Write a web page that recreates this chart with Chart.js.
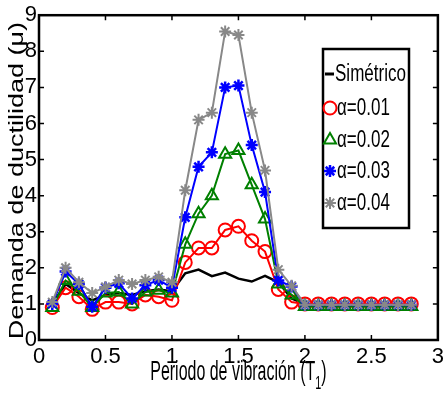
<!DOCTYPE html>
<html>
<head>
<meta charset="utf-8">
<script src="https://cdn.jsdelivr.net/npm/chart.js@4.4.1/dist/chart.umd.min.js"></script>
<style>
  html, body { margin: 0; padding: 0; background: #fff; }
  #wrap { width: 448px; height: 405px; position: relative; }
</style>
</head>
<body>
<div id="wrap"><canvas id="grafico"></canvas></div>
<script>
// Periodos (T1) y demandas de ductilidad
const periodos = [0.1, 0.2, 0.3, 0.4, 0.5, 0.6, 0.7, 0.8, 0.9, 1.0,
                  1.1, 1.2, 1.3, 1.4, 1.5, 1.6, 1.7, 1.8, 1.9, 2.0,
                  2.1, 2.2, 2.3, 2.4, 2.5, 2.6, 2.7, 2.8];
const simetrico = [1.0, 1.55, 1.3, 1.1, 1.25, 1.3, 1.25, 1.35, 1.4, 1.35,
                   1.85, 1.95, 1.77, 1.87, 1.7, 1.62, 1.78, 1.6, 1.15, 1.0,
                   1.0, 1.0, 1.0, 1.0, 1.0, 1.0, 1.0, 1.0];
const alfa001 = [0.9, 1.45, 1.2, 0.85, 1.05, 1.05, 1.0, 1.25, 1.2, 1.1,
                 2.15, 2.55, 2.55, 3.05, 3.15, 2.75, 2.45, 1.4, 1.05, 1.0,
                 1.0, 1.0, 1.0, 1.0, 1.0, 1.0, 1.0, 1.0];
const alfa002 = [0.9, 1.65, 1.35, 0.9, 1.3, 1.33, 1.0, 1.33, 1.38, 1.3,
                 2.65, 3.5, 4.0, 5.15, 5.25, 4.3, 3.35, 1.55, 1.25, 0.93,
                 0.93, 0.93, 0.93, 0.93, 0.93, 0.93, 0.93, 0.93];
const alfa003 = [1.0, 1.9, 1.55, 0.92, 1.45, 1.57, 1.15, 1.52, 1.66, 1.45,
                 3.4, 4.8, 5.2, 7.0, 7.05, 5.4, 4.1, 1.65, 1.48, 0.97,
                 0.97, 0.97, 0.97, 0.97, 0.97, 0.97, 0.97, 0.97];
const alfa004 = [1.05, 2.0, 1.6, 1.3, 1.47, 1.66, 1.55, 1.66, 1.75, 1.6,
                 4.15, 6.1, 6.3, 8.55, 8.45, 6.3, 4.7, 1.95, 1.5, 0.98,
                 0.98, 0.98, 0.98, 0.98, 0.98, 0.98, 0.98, 0.98];
const etiquetas = ['Simétrico', 'α=0.01', 'α=0.02', 'α=0.03', 'α=0.04'];
const ticksX = [0, 0.5, 1, 1.5, 2, 2.5, 3];
const ticksY = [0, 1, 2, 3, 4, 5, 6, 7, 8, 9];

const FUENTE = '"Liberation Sans", Arial, sans-serif';

const pares = (ys) => ys.map((y, i) => ({ x: periodos[i], y: y }));

// Dibuja marcos, ticks hacia adentro, titulos de ejes y leyenda (estilo Matlab)
const estiloMatlab = {
  id: 'estiloMatlab',
  afterDraw(chart) {
    const { ctx, chartArea: a, scales } = chart;
    ctx.save();
    ctx.strokeStyle = '#000';
    ctx.lineWidth = 1.5;
    ticksX.forEach(v => {
      const px = scales.x.getPixelForValue(v);
      ctx.beginPath();
      ctx.moveTo(px, a.bottom); ctx.lineTo(px, a.bottom - 5);
      ctx.moveTo(px, a.top); ctx.lineTo(px, a.top + 5);
      ctx.stroke();
    });
    ticksY.forEach(v => {
      const py = scales.y.getPixelForValue(v);
      ctx.beginPath();
      ctx.moveTo(a.left, py); ctx.lineTo(a.left + 5, py);
      ctx.moveTo(a.right, py); ctx.lineTo(a.right - 5, py);
      ctx.stroke();
    });
    ctx.lineWidth = 2.5;
    ctx.strokeRect(a.left, a.top, a.right - a.left, a.bottom - a.top);

    // titulo eje Y
    ctx.fillStyle = '#000';
    ctx.save();
    ctx.translate(22.5, (a.top + a.bottom) / 2 + 3);
    ctx.scale(0.76, 1);
    ctx.rotate(-Math.PI / 2);
    ctx.font = '27px ' + FUENTE;
    ctx.textAlign = 'center';
    ctx.textBaseline = 'alphabetic';
    ctx.fillText('Demanda de ductilidad (μ)', 0, 0);
    ctx.restore();

    // titulo eje X con subindice
    ctx.save();
    const cx = (a.left + a.right) / 2;
    ctx.translate(cx, 380);
    ctx.scale(0.57, 1);
    ctx.font = '28px ' + FUENTE;
    ctx.textBaseline = 'alphabetic';
    ctx.textAlign = 'left';
    const t1 = 'Periodo de vibración (T';
    const w1 = ctx.measureText(t1).width;
    ctx.font = '19px ' + FUENTE;
    const w2 = ctx.measureText('1').width;
    ctx.font = '28px ' + FUENTE;
    const w3 = ctx.measureText(')').width;
    let x0 = -(w1 + w2 + w3) / 2;
    ctx.fillText(t1, x0, 0);
    ctx.font = '19px ' + FUENTE;
    ctx.fillText('1', x0 + w1, 9);
    ctx.font = '28px ' + FUENTE;
    ctx.fillText(')', x0 + w1 + w2, 0);
    ctx.restore();

    // leyenda
    const lx = 323, ly = 49, lw = 86, lh = 179;
    ctx.fillStyle = '#fff';
    ctx.fillRect(lx, ly, lw, lh);
    ctx.lineWidth = 2.5;
    ctx.strokeStyle = '#000';
    ctx.strokeRect(lx, ly, lw, lh);
    const filas = [74, 108, 140, 171, 203];
    chart.data.datasets.forEach((ds, i) => {
      const y = filas[i];
      ctx.save();
      if (ds.pointRadius === 0) {
        ctx.strokeStyle = ds.borderColor;
        ctx.lineWidth = 3;
        ctx.beginPath();
        ctx.moveTo(325, y); ctx.lineTo(334, y);
        ctx.stroke();
      } else {
        ctx.strokeStyle = ds.borderColor;
        ctx.fillStyle = ds.pointBackgroundColor;
        ctx.lineWidth = ds.pointBorderWidth;
        Chart.helpers.drawPoint(ctx, {
          pointStyle: ds.pointStyle, radius: ds.pointRadius,
          rotation: 0, borderWidth: ds.pointBorderWidth
        }, 330, y);
      }
      ctx.restore();
      ctx.save();
      ctx.fillStyle = '#000';
      ctx.translate(i === 0 ? 335 : 337, y);
      ctx.scale(0.74, 1);
      ctx.font = '23px ' + FUENTE;
      ctx.textAlign = 'left';
      ctx.textBaseline = 'middle';
      ctx.fillText(ds.label, 0, 1);
      ctx.restore();
    });
    ctx.restore();
  }
};

const serie = (label, ys, color, estilo, radio, grosor, orden) => ({
  label: label,
  data: pares(ys),
  showLine: true,
  borderColor: color,
  borderWidth: 2,
  pointStyle: estilo,
  pointRadius: radio,
  pointHoverRadius: radio,
  pointBorderColor: color,
  pointBackgroundColor: 'rgba(0,0,0,0)',
  pointBorderWidth: grosor,
  order: orden
});

const datasets = [
  Object.assign(serie(etiquetas[0], simetrico, '#000000', 'circle', 0, 0, 5), { borderWidth: 2.5 }),
  serie(etiquetas[1], alfa001, '#ff0000', 'circle', 6.5, 2, 4),
  serie(etiquetas[2], alfa002, '#008000', 'triangle', 7, 2, 3),
  serie(etiquetas[3], alfa003, '#0000ff', 'star', 6, 2.5, 2),
  serie(etiquetas[4], alfa004, '#888888', 'star', 6, 2, 1)
];

new Chart(document.getElementById('grafico'), {
  type: 'scatter',
  data: { datasets: datasets },
  options: {
    responsive: true,
    maintainAspectRatio: false,
    animation: false,
    layout: { padding: { top: 15, right: 4, left: 0, bottom: 0 } },
    plugins: {
      legend: { display: false },
      tooltip: { enabled: false }
    },
    scales: {
      x: {
        type: 'linear',
        min: 0, max: 3,
        afterBuildTicks: (s) => { s.ticks = ticksX.map(v => ({ value: v })); },
        afterFit: (s) => { s.height = 65; },
        grid: { display: false, drawTicks: false },
        border: { display: true, color: '#000', width: 2 },
        ticks: {
          color: '#000',
          padding: 4,
          maxRotation: 0,
          font: { family: '"Liberation Sans Narrow", ' + FUENTE, size: 22 },
          callback: (v) => String(v)
        }
      },
      y: {
        min: 0, max: 9,
        afterBuildTicks: (s) => { s.ticks = ticksY.map(v => ({ value: v })); },
        afterFit: (s) => { s.width = 39; },
        grid: { display: false, drawTicks: false },
        border: { display: true, color: '#000', width: 2 },
        ticks: {
          color: '#000',
          padding: 2,
          font: { family: '"Liberation Sans Narrow", ' + FUENTE, size: 22 },
          callback: (v) => String(v)
        }
      }
    }
  },
  plugins: [estiloMatlab]
});
</script>
</body>
</html>
